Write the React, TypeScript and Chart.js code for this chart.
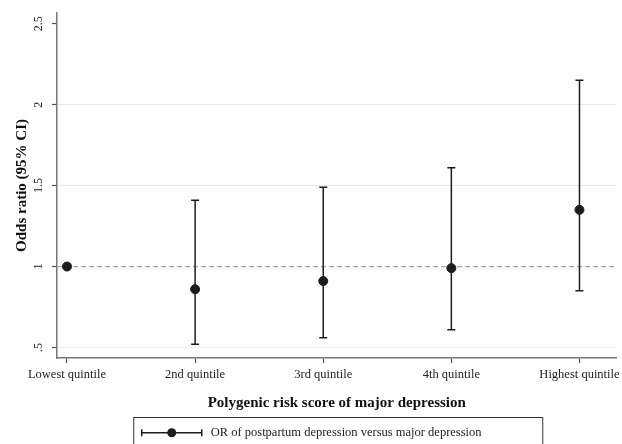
import React, { useEffect, useRef } from 'react';
import { Chart, registerables } from 'chart.js';

Chart.register(...registerables);

const CATEGORIES = ['Lowest quintile', '2nd quintile', '3rd quintile', '4th quintile', 'Highest quintile'];
const OR_VALUES = [1.0, 0.86, 0.91, 0.99, 1.35];
const CI_LOWER: (number | null)[] = [null, 0.52, 0.56, 0.61, 0.85];
const CI_UPPER: (number | null)[] = [null, 1.41, 1.49, 1.61, 2.15];
const Y_TICKS = [0.5, 1, 1.5, 2, 2.5];
const Y_TICK_LABELS = ['.5', '1', '1.5', '2', '2.5'];
const REFERENCE_OR = 1;
const Y_TITLE = 'Odds ratio (95% CI)';
const X_TITLE = 'Polygenic risk score of major depression';
const LEGEND_LABEL = 'OR of postpartum depression versus major depression';

const SERIF = '"Liberation Serif", "Times New Roman", serif';
const MARK = '#1c1c1c';

const referenceLine = {
  id: 'referenceLine',
  beforeDatasetsDraw(chart: any) {
    const { ctx, chartArea, scales } = chart;
    const y = scales.y.getPixelForValue(REFERENCE_OR);
    ctx.save();
    ctx.strokeStyle = '#a8a8a8';
    ctx.lineWidth = 1.2;
    ctx.setLineDash([5, 3]);
    ctx.beginPath();
    ctx.moveTo(chartArea.left, y);
    ctx.lineTo(chartArea.right, y);
    ctx.stroke();
    ctx.restore();
  },
};

const boxedLegend = {
  id: 'boxedLegend',
  afterDraw(chart: any) {
    const { ctx, chartArea } = chart;
    const boxW = 409;
    const cx = (chartArea.left + chartArea.right) / 2 + 1.5;
    const left = cx - boxW / 2;
    const top = 417.5;
    const cy = 432.7;
    ctx.save();
    ctx.strokeStyle = '#333';
    ctx.lineWidth = 1;
    ctx.strokeRect(left, top, boxW, 40);
    const sx0 = left + 8;
    const sx1 = sx0 + 60;
    ctx.strokeStyle = MARK;
    ctx.lineWidth = 1.5;
    ctx.beginPath();
    ctx.moveTo(sx0, cy);
    ctx.lineTo(sx1, cy);
    ctx.moveTo(sx0, cy - 3.5);
    ctx.lineTo(sx0, cy + 3.5);
    ctx.moveTo(sx1, cy - 3.5);
    ctx.lineTo(sx1, cy + 3.5);
    ctx.stroke();
    ctx.fillStyle = MARK;
    ctx.beginPath();
    ctx.arc((sx0 + sx1) / 2, cy, 4.5, 0, Math.PI * 2);
    ctx.fill();
    ctx.fillStyle = '#222';
    ctx.font = `12.5px ${SERIF}`;
    ctx.textBaseline = 'middle';
    ctx.textAlign = 'left';
    ctx.fillText(LEGEND_LABEL, sx1 + 9, cy);
    ctx.restore();
  },
};

export default function App() {
  const ref = useRef<HTMLCanvasElement | null>(null);

  useEffect(() => {
    if (!ref.current) return;
    const whiskers = CATEGORIES.map((_, i) => i)
      .filter((i) => CI_LOWER[i] != null && CI_UPPER[i] != null)
      .map((i) => ({
        type: 'line' as const,
        data: [
          { x: i, y: CI_LOWER[i] as number },
          { x: i, y: CI_UPPER[i] as number },
        ],
        borderColor: MARK,
        borderWidth: 1.5,
        showLine: true,
        fill: false,
        pointStyle: 'line' as const,
        pointRadius: 4,
        pointHoverRadius: 4,
        pointBorderColor: MARK,
        pointBorderWidth: 1.5,
      }));

    const chart = new Chart(ref.current, {
      type: 'scatter',
      data: {
        datasets: [
          {
            label: LEGEND_LABEL,
            data: OR_VALUES.map((v, i) => ({ x: i, y: v })),
            backgroundColor: MARK,
            borderColor: MARK,
            pointRadius: 4.5,
            pointHoverRadius: 4.5,
          },
          ...whiskers,
        ] as any,
      },
      options: {
        responsive: false,
        animation: false,
        events: [],
        layout: { padding: { top: 13, right: 5, bottom: 29, left: 0 } },
        plugins: {
          legend: { display: false },
          tooltip: { enabled: false },
        },
        scales: {
          x: {
            type: 'linear',
            min: -0.078,
            max: 4.289,
            afterBuildTicks: (scale: any) => {
              scale.ticks = CATEGORIES.map((_, i) => ({ value: i }));
            },
            afterFit: (scale: any) => {
              scale.height = 57;
              scale.paddingLeft = 0;
              scale.paddingRight = 0;
            },
            ticks: {
              autoSkip: false,
              maxRotation: 0,
              minRotation: 0,
              padding: 4,
              color: '#222',
              font: { family: SERIF, size: 12.5 },
              callback: (v: any) => CATEGORIES[Math.round(Number(v))] ?? '',
            },
            grid: {
              drawOnChartArea: false,
              drawTicks: true,
              tickLength: 5,
              tickColor: '#555',
              tickWidth: 1.2,
            },
            border: { color: '#777', width: 1.5 },
            title: {
              display: true,
              text: X_TITLE,
              color: '#111',
              font: { family: SERIF, size: 15, weight: 'bold' },
              padding: { top: 0, bottom: 3 },
            },
          },
          y: {
            type: 'linear',
            min: 0.435,
            max: 2.566,
            afterBuildTicks: (scale: any) => {
              scale.ticks = Y_TICKS.map((v) => ({ value: v }));
            },
            afterFit: (scale: any) => {
              scale.width = 57;
              scale.paddingTop = 0;
              scale.paddingBottom = 0;
            },
            ticks: {
              minRotation: 90,
              maxRotation: 90,
              crossAlign: 'center',
              padding: 6,
              color: '#222',
              font: { family: SERIF, size: 12 },
              callback: (v: any) => {
                const idx = Y_TICKS.indexOf(Number(v));
                return idx >= 0 ? Y_TICK_LABELS[idx] : '';
              },
            },
            grid: {
              color: (c: any) =>
                c.tick && (c.tick.value === REFERENCE_OR || c.tick.value === 2.5) ? 'rgba(0,0,0,0)' : '#ebebeb',
              lineWidth: 1,
              drawTicks: true,
              tickLength: 5,
              tickColor: '#555',
              tickWidth: 1.2,
            },
            border: { color: '#777', width: 1.5 },
            title: {
              display: true,
              text: Y_TITLE,
              color: '#111',
              font: { family: SERIF, size: 15, weight: 'bold' },
              padding: { top: 13, bottom: 0 },
            },
          },
        },
      } as any,
      plugins: [referenceLine, boxedLegend],
    });
    return () => chart.destroy();
  }, []);

  return (
    <div style={{ position: 'fixed', left: 0, top: 0, width: 622, height: 444, background: '#fff' }}>
      <canvas ref={ref} width={622} height={444} />
    </div>
  );
}
